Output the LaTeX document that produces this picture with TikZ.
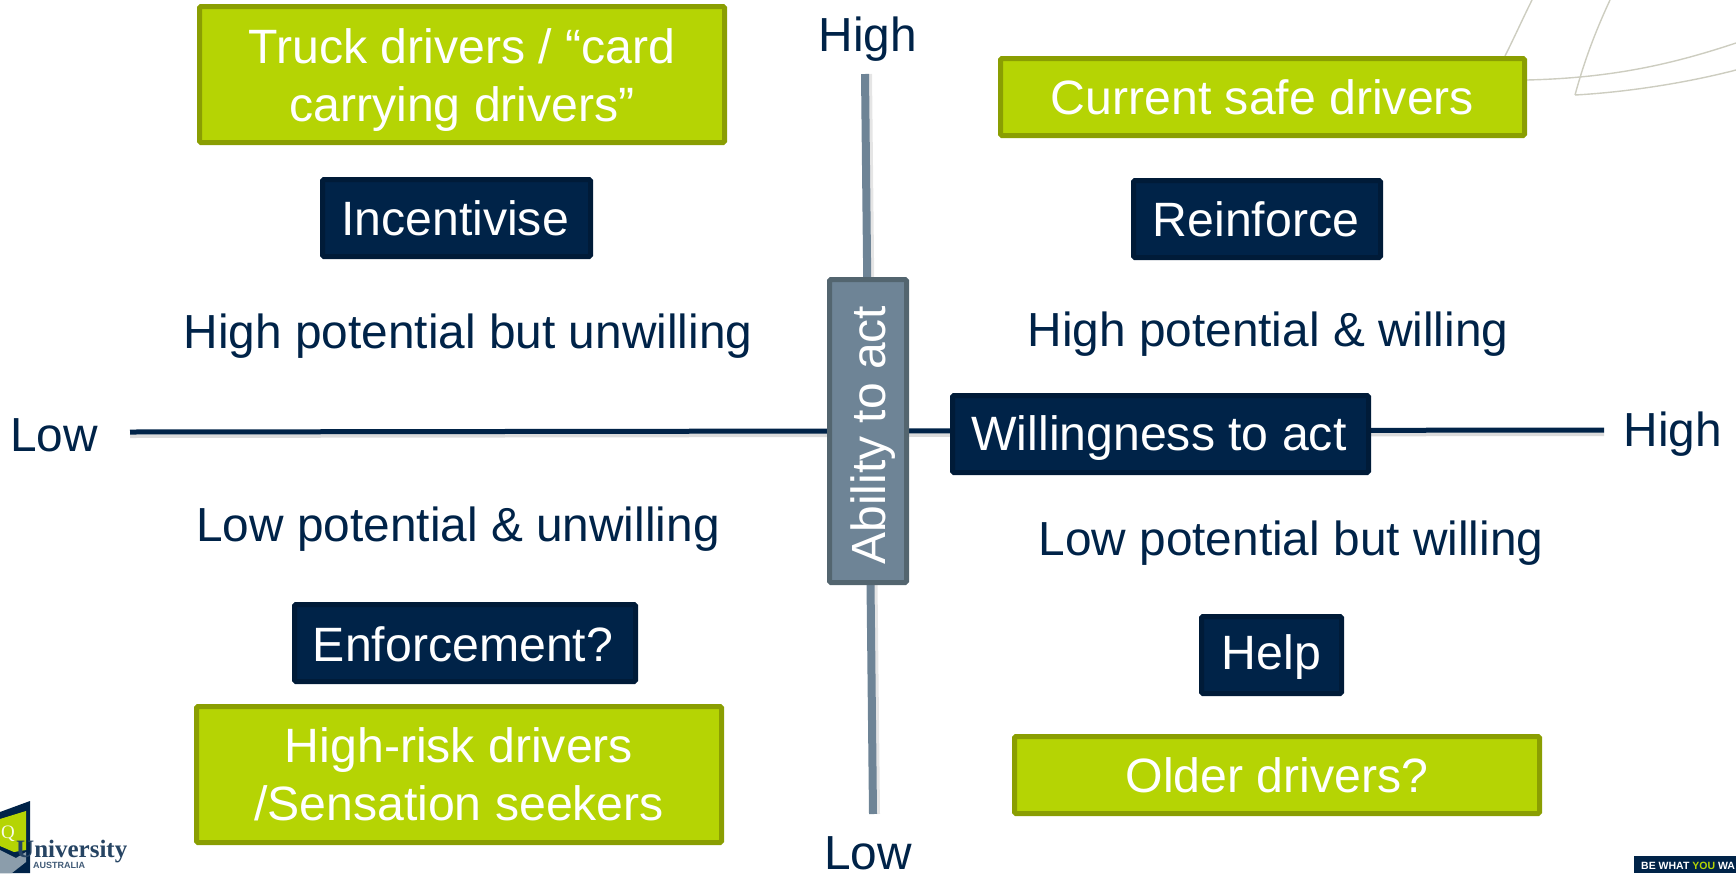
\documentclass[tikz,border=0pt]{standalone}
\usepackage{fontspec}
\setmainfont{Liberation Sans}
\newfontfamily\logofont{Liberation Serif}
\definecolor{grn}{HTML}{B5D404}
\definecolor{grnb}{HTML}{8A9E02}
\definecolor{navy}{HTML}{002348}
\definecolor{navyb}{HTML}{001B38}
\definecolor{slate}{HTML}{6E8496}
\definecolor{slateb}{HTML}{53656F}
\definecolor{deco}{HTML}{CDCDC0}
\tikzset{
  x=1pt,y=-1pt,
  boxbase/.style={rectangle,rounded corners=1.5pt,line width=5pt,inner sep=0pt,align=center,text=white},
  greenbox/.style={boxbase,fill=grn,draw=grnb},
  navybox/.style={boxbase,fill=navy,draw=navyb},
  slatebox/.style={boxbase,fill=slate,draw=slateb},
  boxtext/.style={inner sep=0pt,align=center,text=white,font=\fontsize{48.2}{58}\selectfont},
  plain/.style={text=navy,inner sep=0pt,font=\fontsize{47.8}{58}\selectfont},
  hline/.style={draw=navy,line width=5pt},
  vline/.style={draw=slate,line width=8pt},
  shade/.style={draw=black!14,line width=4pt},
  decoline/.style={draw=deco,line width=1.4pt},
}
\newcommand{\pbox}[6]{\node[#1,minimum width=#4-#3-5pt,minimum height=#6-#5-5pt] (#2) at ({(#3+#4)/2},{(#5+#6)/2}) {};}
\begin{document}
\begin{tikzpicture}
\useasboundingbox (0,0) rectangle (1736,873);
% decorative curves
\coordinate (d1) at (1505,56); \coordinate (d2) at (1532,0);
\coordinate (d3) at (1575,95); \coordinate (d4) at (1610,0);
\coordinate (d5) at (1527,80); \coordinate (d6) at (1736,43); \coordinate (d7) at (1736,70);
\draw[decoline] (d1) .. controls (1515,36) and (1523,18) .. (d2);
\draw[decoline] (d3) .. controls (1585,58) and (1597,28) .. (d4);
\draw[decoline] (d5) .. controls (1610,78) and (1670,65) .. (d6);
\draw[decoline] (d3) .. controls (1630,92) and (1690,82) .. (d7);
% axes
\coordinate (xa) at (130,432); \coordinate (xb) at (1604,430);
\coordinate (ya) at (865,74); \coordinate (yb) at (873,814);
\draw[shade] (130,436) -- (1604,434);
\draw[shade,draw=black!10] (870,74) -- (878,814);
\draw[hline] (xa) -- (xb);
\draw[vline] (ya) -- (yb);
% green boxes
\pbox{greenbox}{truck}{197}{727}{4}{145}
\node[boxtext] (trucktxt) at ([yshift=-5.5pt]truck.center) {Truck drivers / “card\\carrying drivers”};
\pbox{greenbox}{safe}{998}{1527}{56}{138}
\node[boxtext] (safetxt) at (safe.center) {Current safe drivers};
\pbox{greenbox}{risk}{194}{724}{704}{845}
\node[boxtext] (risktxt) at (risk.center) {High-risk drivers\\/Sensation seekers};
\pbox{greenbox}{older}{1012}{1542}{734}{816}
\node[boxtext] (oldertxt) at (older.center) {Older drivers?};
% navy boxes
\pbox{navybox}{inc}{320}{593}{177}{259}
\node[boxtext] (inctxt) at ([xshift=-1.5pt]inc.center) {Incentivise};
\pbox{navybox}{rei}{1131}{1383}{178}{260}
\node[boxtext] (reitxt) at ([xshift=-1pt]rei.center) {Reinforce};
\pbox{navybox}{will}{950}{1371}{393}{475}
\node[boxtext] (willtxt) at ([xshift=-1.5pt,yshift=-4.5pt]will.center) {Willingness to act};
\pbox{navybox}{enf}{292}{638}{602}{684}
\node[boxtext] (enftxt) at ([xshift=-2pt,yshift=-1pt]enf.center) {Enforcement?};
\pbox{navybox}{help}{1199}{1344}{614}{696}
\node[boxtext] (helptxt) at ([yshift=-2pt]help.center) {Help};
% ability
\node[slatebox,minimum width=77pt,minimum height=303pt] (abil) at (868,431) {};
\node[boxtext,font=\fontsize{48}{58}\selectfont,rotate=90] (abiltxt) at ([xshift=5pt,yshift=-4pt]abil.center) {Ability to act};
% labels
\node[plain] (hi1) at (868,39) {High};
\node[plain] (lo1) at (868,853) {Low};
\node[plain] (lo2) at (54,435) {Low};
\node[plain] (hi2) at (1673,434) {High};
\node[plain] (q1) at (468,336) {High potential but unwilling};
\node[plain] (q2) at (1268,334) {High potential \& willing};
\node[plain] (q3) at (458,529) {Low potential \& unwilling};
\node[plain] (q4) at (1291,543) {Low potential but willing};
% logo
\fill[navy] (0,812) -- (30,801) -- (30,873) -- (0,873) -- cycle;
\fill[grn] (0,819) -- (26,811) -- (26,850) -- (14,852) -- (0,846) -- cycle;
\fill[slate!80] (0,850) -- (16,858) -- (26,852) -- (26,862) -- (12,873) -- (0,873) -- cycle;
\node[inner sep=0pt,text=white!90!grn,font=\logofont\fontsize{19}{19}\selectfont] (lq) at (8,834) {Q};
\node[anchor=base west,inner sep=0pt,text=navy!85!white,font=\logofont\bfseries\fontsize{25}{25}\selectfont] (luni) at (16,857) {University};
\node[anchor=base west,inner sep=0pt,text=navy!75!white,font=\bfseries\fontsize{9}{9}\selectfont] (laus) at (33,868) {AUSTRALIA};
% banner
\fill[navy] (1634,856) rectangle (1736,873);
\node[anchor=base west,inner sep=0pt,text=white,font=\bfseries\fontsize{10.5}{12}\selectfont] (lban) at (1641,869) {BE WHAT \textcolor{grn}{YOU} WA};
\end{tikzpicture}
\end{document}
